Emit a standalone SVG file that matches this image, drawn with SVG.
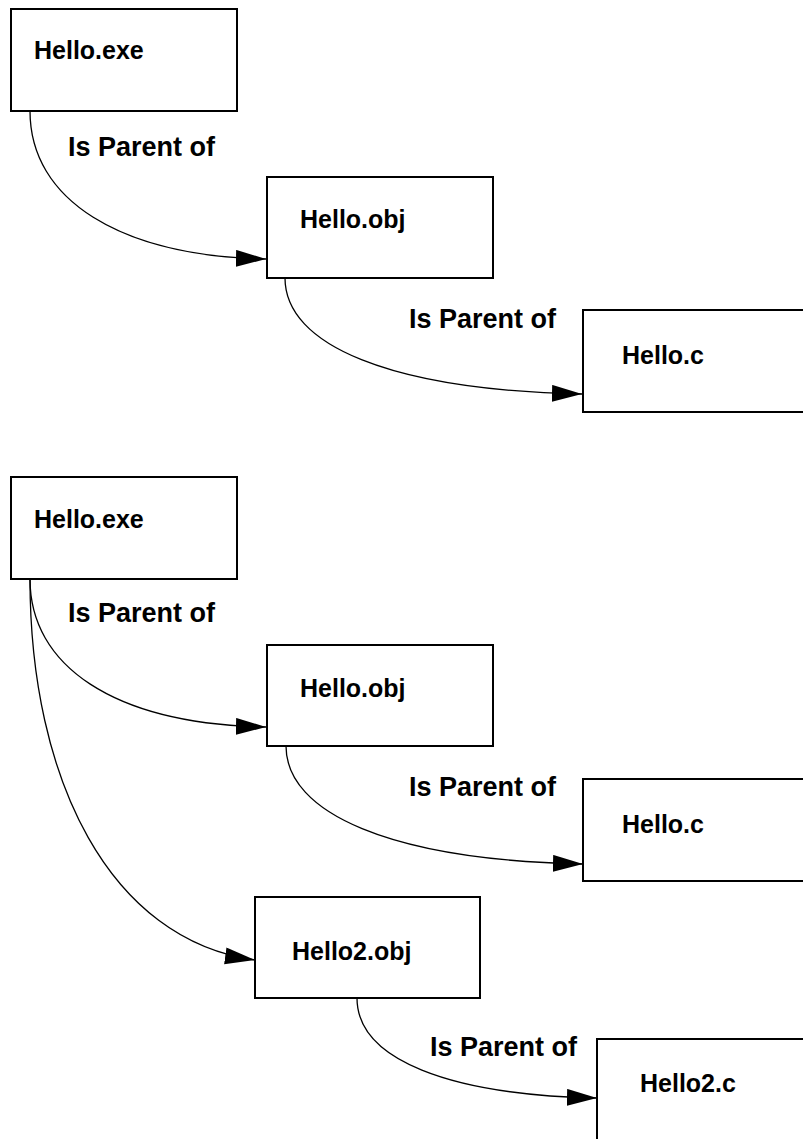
<svg xmlns="http://www.w3.org/2000/svg" width="803" height="1139" viewBox="0 0 803 1139">
<defs>
<style>
.box{fill:#fff;stroke:#000;stroke-width:2}
.nt{font-family:"Liberation Sans",Arial,sans-serif;font-weight:bold;font-size:25px;fill:#000}
.lb{font-family:"Liberation Sans",Arial,sans-serif;font-weight:bold;font-size:27px;fill:#000}
.cn{fill:none;stroke:#000;stroke-width:1.3}
</style>
<marker id="arr" markerUnits="userSpaceOnUse" markerWidth="31" markerHeight="18" refX="30" refY="8.5" orient="auto">
<path d="M0,0 L30,8.5 L0,17 z" fill="#000"/>
</marker>
</defs>
<rect width="803" height="1139" fill="#fff"/>
<g id="connectors">
<path class="cn" d="M30,111 C30,200 120,256 266,259" marker-end="url(#arr)"/>
<path class="cn" d="M285,278 C285,345 390,390 582,394" marker-end="url(#arr)"/>
<path class="cn" d="M30,579 C30,665 112,724 266,727" marker-end="url(#arr)"/>
<path class="cn" d="M30,579 C30,780 110,940 255,960" marker-end="url(#arr)"/>
<path class="cn" d="M286,746 C286,813 390,860 583,864" marker-end="url(#arr)"/>
<path class="cn" d="M357,998 C357,1060 450,1095 597,1098" marker-end="url(#arr)"/>
<text class="lb" x="68" y="156">Is Parent of</text>
<text class="lb" x="409" y="328">Is Parent of</text>
<text class="lb" x="68" y="622">Is Parent of</text>
<text class="lb" x="409" y="796">Is Parent of</text>
<text class="lb" x="430" y="1056">Is Parent of</text>
</g>
<g id="n_exe1"><rect class="box" x="11" y="9" width="226" height="102"/><text class="nt" x="34" y="59">Hello.exe</text></g>
<g id="n_obj1"><rect class="box" x="267" y="177" width="226" height="101"/><text class="nt" x="300" y="228">Hello.obj</text></g>
<g id="n_c1"><rect class="box" x="583" y="310" width="230" height="102"/><text class="nt" x="622" y="364">Hello.c</text></g>
<g id="n_exe2"><rect class="box" x="11" y="477" width="226" height="102"/><text class="nt" x="34" y="528">Hello.exe</text></g>
<g id="n_obj2"><rect class="box" x="267" y="645" width="226" height="101"/><text class="nt" x="300" y="697">Hello.obj</text></g>
<g id="n_c2"><rect class="box" x="583" y="779" width="230" height="102"/><text class="nt" x="622" y="833">Hello.c</text></g>
<g id="n_obj3"><rect class="box" x="255" y="897" width="225" height="101"/><text class="nt" x="292" y="960">Hello2.obj</text></g>
<g id="n_c3"><rect class="box" x="597" y="1039" width="230" height="115"/><text class="nt" x="640" y="1092">Hello2.c</text></g>
</svg>
